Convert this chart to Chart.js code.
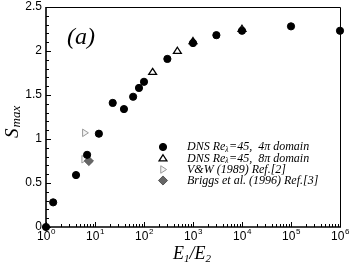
<!DOCTYPE html>
<html lang="en">
  <head>
    <meta charset="UTF-8" />
    <title>Smax vs E1/E2</title>
    <script src="https://cdn.jsdelivr.net/npm/chart.js"></script>
    <style>
      body { margin: 0; background: #fff; }
    </style>
  </head>
  <body>
    <canvas id="chart" width="353" height="264"></canvas>
    <script>
      // values
      const dns4piX = [1, 1.4, 4.1, 6.9, 12, 23, 39, 60, 79, 100, 300, 1000, 3000, 1e4, 1e5, 1e6];
      const dns4piY = [0, 0.28, 0.59, 0.82, 1.06, 1.41, 1.34, 1.48, 1.58, 1.65, 1.91, 2.09, 2.18, 2.23, 2.28, 2.23];
      const dns8piX = [150, 480, 1000, 1e4];
      const dns8piY = [1.76, 2.0, 2.11, 2.25];
      const vwX = [6.2, 6.0];
      const vwY = [1.07, 0.77];
      const briggsX = [7.5];
      const briggsY = [0.75];
      const yTicks = [0, 0.5, 1, 1.5, 2, 2.5];
      const xTickExp = [0, 1, 2, 3, 4, 5, 6];

      const pts = (xs, ys) => xs.map((x, i) => ({ x: x, y: ys[i] }));

      const serif = "'Liberation Serif', 'DejaVu Serif', serif";
      const sans = "'Liberation Sans', Arial, sans-serif";

      const series = [
        { label: "DNS 4pi", data: pts(dns4piX, dns4piY), pointStyle: "circle", radius: 3.6, rotation: 0,
          backgroundColor: "#000", borderColor: "#000", borderWidth: 1 },
        { label: "DNS 8pi", data: pts(dns8piX, dns8piY), pointStyle: "triangle", radius: 3.8, rotation: 0,
          backgroundColor: "#fff", borderColor: "#000", borderWidth: 1.3 },
        { label: "V&W", data: pts(vwX, vwY), pointStyle: "triangle", radius: 3.6, rotation: 90,
          backgroundColor: "#f4f4f4", borderColor: "#999", borderWidth: 1 },
        { label: "Briggs", data: pts(briggsX, briggsY), pointStyle: "rectRot", radius: 3.8, rotation: 0,
          backgroundColor: "#666", borderColor: "#555", borderWidth: 1 },
      ];
      // circles go on top of the others
      const drawOrder = [1, 2, 3, 0];

      const legendText = [
        ["DNS Re", "\u03bb", "=45,  4\u03c0 domain"],
        ["DNS Re", "\u03bb", "=45,  8\u03c0 domain"],
        ["V&W (1989) Ref.[2]"],
        ["Briggs et al. (1996) Ref.[3]"],
      ];

      function drawMarker(ctx, s, x, y) {
        ctx.save();
        ctx.fillStyle = s.backgroundColor;
        ctx.strokeStyle = s.borderColor;
        ctx.lineWidth = s.borderWidth;
        const r = s.radius;
        ctx.beginPath();
        if (s.pointStyle === "circle") {
          ctx.arc(x, y, r, 0, Math.PI * 2);
        } else if (s.pointStyle === "rectRot") {
          ctx.moveTo(x, y - r * 1.2); ctx.lineTo(x + r * 1.2, y);
          ctx.lineTo(x, y + r * 1.2); ctx.lineTo(x - r * 1.2, y);
        } else {
          ctx.translate(x, y);
          ctx.rotate((s.rotation * Math.PI) / 180);
          const h = r * 1.5, w = r * 1.7;
          ctx.moveTo(0, -h * 0.66); ctx.lineTo(w * 0.5 + 0.7, h * 0.34 + 0.4); ctx.lineTo(-w * 0.5 - 0.7, h * 0.34 + 0.4);
        }
        ctx.closePath();
        ctx.fill();
        ctx.stroke();
        ctx.restore();
      }

      const decor = {
        id: "decor",
        afterDraw(chart) {
          const ctx = chart.ctx;
          const xs = chart.scales.x, ys = chart.scales.y;
          const a = chart.chartArea;
          ctx.save();
          ctx.strokeStyle = "#000";
          // frame
          ctx.lineWidth = 1;
          ctx.beginPath();
          ctx.moveTo(a.left, a.top + 0.5); ctx.lineTo(a.right + 0.5, a.top + 0.5); ctx.lineTo(a.right + 0.5, a.bottom);
          ctx.stroke();
          ctx.lineWidth = 1.6;
          ctx.beginPath();
          ctx.moveTo(a.left, a.top); ctx.lineTo(a.left, a.bottom); ctx.lineTo(a.right + 1, a.bottom);
          ctx.stroke();

          // x ticks, inward
          ctx.lineWidth = 1;
          ctx.beginPath();
          xTickExp.forEach((e) => {
            const px = Math.round(xs.getPixelForValue(Math.pow(10, e))) + 0.5;
            ctx.moveTo(px, a.bottom); ctx.lineTo(px, a.bottom - 5);
            if (e < 6) {
              for (let m = 2; m < 10; m++) {
                const mx = Math.round(xs.getPixelForValue(m * Math.pow(10, e))) + 0.5;
                ctx.moveTo(mx, a.bottom); ctx.lineTo(mx, a.bottom - 3);
              }
            }
          });
          // y ticks, inward
          for (let i = 0; i <= 25; i++) {
            const py = Math.round(ys.getPixelForValue(i / 10)) + 0.5;
            const len = i % 5 === 0 ? 5 : 3;
            ctx.moveTo(a.left, py); ctx.lineTo(a.left + len, py);
          }
          ctx.stroke();

          // tick labels
          ctx.fillStyle = "#000";
          ctx.textBaseline = "alphabetic";
          xTickExp.forEach((e) => {
            const px = xs.getPixelForValue(Math.pow(10, e));
            ctx.font = "12px " + sans;
            const w1 = ctx.measureText("10").width;
            ctx.font = "8px " + sans;
            const w2 = ctx.measureText(String(e)).width;
            const x0 = px - (w1 + w2) / 2;
            ctx.font = "12px " + sans;
            ctx.textAlign = "left";
            ctx.fillText("10", x0, 240);
            ctx.font = "8px " + sans;
            ctx.fillText(String(e), x0 + w1 + 0.5, 234);
          });
          ctx.font = "12px " + sans;
          ctx.textAlign = "right";
          ctx.textBaseline = "middle";
          yTicks.forEach((v) => {
            ctx.fillText(String(v), a.left - 4, ys.getPixelForValue(v));
          });

          // axis titles
          ctx.textAlign = "left";
          ctx.textBaseline = "alphabetic";
          let x = 173;
          const parts = [["E", 18, 0], ["1", 11, 3], ["/", 18, 0], ["E", 18, 0], ["2", 11, 3]];
          parts.forEach(([t, sz, dy]) => {
            ctx.font = "italic " + sz + "px " + serif;
            ctx.fillText(t, x, 259 + dy);
            x += ctx.measureText(t).width;
          });

          ctx.save();
          ctx.translate(18, 138);
          ctx.rotate(-Math.PI / 2);
          ctx.font = "italic 19px " + serif;
          ctx.fillText("S", 0, 0);
          const sw = ctx.measureText("S").width;
          ctx.font = "italic 13px " + serif;
          ctx.fillText("max", sw + 1, 2);
          ctx.restore();

          // panel label
          ctx.font = "italic 24px " + serif;
          ctx.fillText("(a)", 67, 44);

          // legend
          const rows = [147, 158.5, 169.5, 180.5];
          series.forEach((s, i) => {
            drawMarker(ctx, s, 163, rows[i]);
            let tx = 187;
            ctx.textBaseline = "middle";
            legendText[i].forEach((t, j) => {
              const sub = legendText[i].length === 3 && j === 1;
              ctx.font = "italic " + (sub ? 7.5 : 12) + "px " + serif;
              ctx.fillText(t, tx, rows[i] + (sub ? 3 : 0));
              tx += ctx.measureText(t).width + (sub ? 0.5 : 0);
            });
          });
          ctx.restore();
        },
      };

      // custom point drawing so the markers match the legend ones
      const markerPlugin = {
        id: "markers",
        afterDatasetsDraw(chart) {
          const ctx = chart.ctx;
          drawOrder.forEach((i) => {
            const s = series[i];
            chart.getDatasetMeta(i).data.forEach((el) => drawMarker(ctx, s, el.x, el.y));
          });
        },
      };

      new Chart(document.getElementById("chart"), {
        type: "scatter",
        data: {
          datasets: series.map((s) => ({
            label: s.label,
            data: s.data,
            pointRadius: 0,
            pointHoverRadius: 0,
            clip: false,
          })),
        },
        options: {
          responsive: false,
          animation: false,
          devicePixelRatio: 1,
          layout: { padding: { left: 46, right: 13, top: 7, bottom: 37 } },
          plugins: { legend: { display: false }, tooltip: { enabled: false } },
          scales: {
            x: { type: "logarithmic", min: 1, max: 1e6, display: false },
            y: { type: "linear", min: 0, max: 2.5, display: false },
          },
        },
        plugins: [markerPlugin, decor],
      });
    </script>
  </body>
</html>
